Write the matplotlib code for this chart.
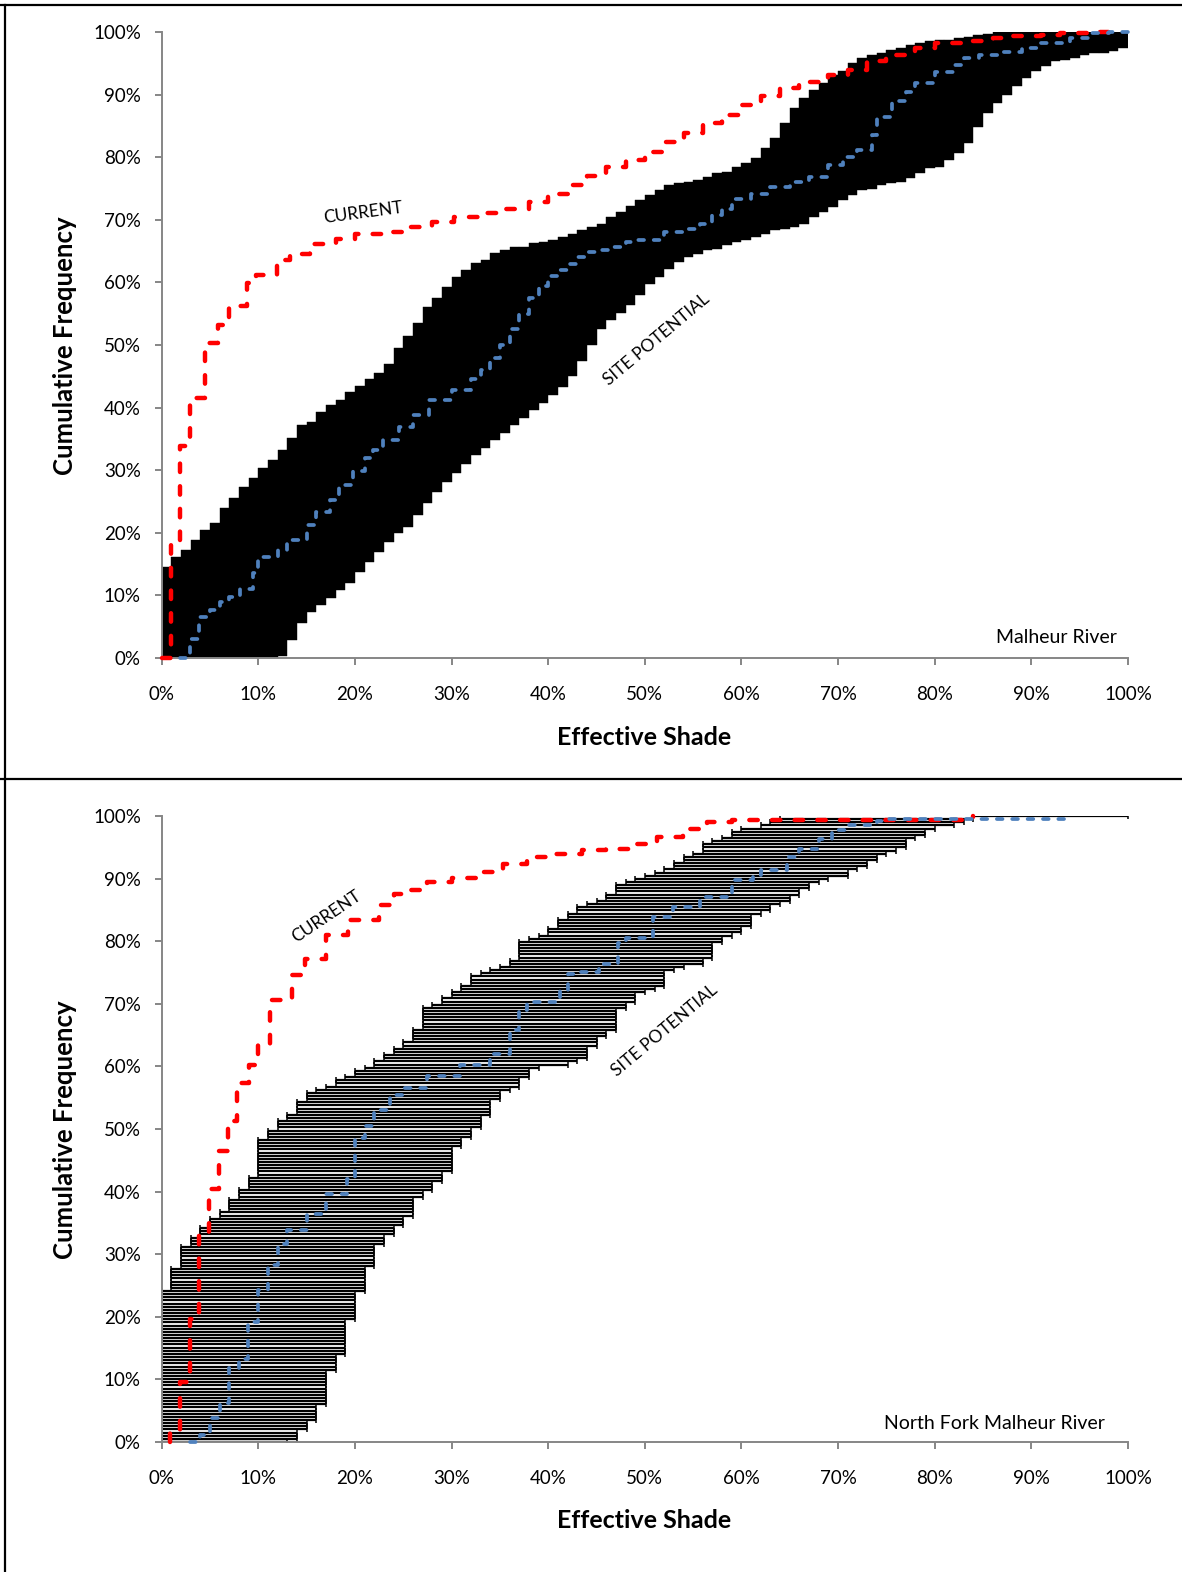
import numpy as np
import matplotlib.pyplot as plt

plt.rcParams['font.family'] = ['Lato', 'DejaVu Sans']

# ---------------- Malheur River (top panel) ----------------
# site potential spread per 1% effective-shade bin: cumulative frequency range (%)
mr_band_lo = [0, 0, 0, 0, 0, 0, 0, 0, 0, 0,
              0, 0, 0.3, 2.9, 5.6, 7.4, 8.5, 9.6, 10.9, 12.0,
              13.7, 15.3, 17.0, 18.5, 20.0, 21.0, 22.8, 24.7, 26.5, 28.1,
              29.5, 31.0, 32.4, 33.6, 34.8, 36.0, 37.2, 38.4, 39.6, 40.8,
              42.0, 43.3, 45.0, 47.5, 50.0, 52.5, 54.0, 55.1, 56.4, 58.0,
              59.8, 60.9, 62.2, 63.3, 64.1, 64.6, 65.2, 65.4, 66.0, 66.5,
              66.8, 67.3, 67.8, 68.4, 68.6, 68.9, 69.4, 70.5, 71.3, 72.1,
              73.2, 74.0, 74.8, 75.0, 75.6, 75.8, 76.1, 76.6, 77.4, 78.2,
              78.5, 79.6, 80.6, 82.2, 84.9, 87.0, 88.6, 89.9, 91.3, 92.6,
              93.7, 94.5, 95.3, 95.5, 95.8, 96.3, 96.6, 96.6, 96.9, 97.4]
mr_band_hi = [14.5, 16.1, 17.2, 18.8, 20.4, 21.5, 24.0, 25.5, 27.3, 28.7,
              30.3, 31.6, 33.2, 35.1, 37.2, 37.7, 39.3, 40.4, 41.2, 42.5,
              43.5, 44.5, 45.5, 47.0, 49.5, 51.5, 53.5, 56.1, 57.5, 59.3,
              60.9, 62.0, 63.1, 63.6, 64.7, 65.2, 65.7, 65.7, 66.3, 66.5,
              66.7, 67.2, 67.7, 68.3, 68.8, 69.4, 70.5, 71.3, 72.2, 73.2,
              74.0, 74.8, 75.6, 75.8, 76.1, 76.4, 76.9, 77.4, 77.7, 78.5,
              79.0, 79.8, 81.4, 83.0, 85.4, 87.8, 89.4, 90.7, 91.8, 93.1,
              93.7, 95.0, 95.8, 96.3, 96.6, 97.1, 97.4, 97.9, 98.2, 98.5,
              98.7, 98.8, 99.0, 99.2, 99.5, 99.7, 100, 100, 100, 100,
              100, 100, 100, 100, 100, 100, 100, 100, 100, 100]

mr_cur_shade = [0, 1.0, 1.9, 2.9, 4.5, 5.8, 7.0, 8.8, 9.8, 11.9, 13.3, 15.3,
                18.0, 20.0, 23.0, 25.3, 28.0, 30.3, 33.0, 35.3, 38.0, 40.0,
                42.0, 44.0, 46.0, 48.0, 50.0, 52.0, 54.0, 56.0, 58.0, 60.0,
                62.0, 64.0, 66.0, 69.0, 71.0, 73.0, 75.0, 78.0, 80.0, 83.0,
                86.0, 88.0, 91.0, 93.0, 96.0, 98.0]
mr_cur_freq = [0, 18.0, 33.8, 41.5, 50.3, 53.2, 56.2, 59.9, 61.2, 63.6, 64.6, 66.2,
               67.0, 67.8, 68.1, 68.9, 69.7, 70.5, 71.1, 71.8, 72.9, 74.2,
               75.5, 77.0, 78.5, 79.6, 80.9, 82.5, 83.8, 85.4, 86.7, 88.3,
               89.7, 91.0, 92.0, 93.1, 93.9, 95.3, 96.3, 97.4, 98.2, 98.5,
               99.0, 99.3, 99.5, 99.8, 100, 100]

mr_pot_shade = [1.9, 2.9, 3.9, 5.0, 6.0, 7.0, 8.1, 9.5, 10.0, 12.0, 13.0, 15.0,
                16.0, 17.4, 18.4, 19.8, 21.0, 21.9, 22.9, 24.6, 26.0, 27.7,
                30.0, 32.0, 33.0, 34.0, 35.0, 36.0, 37.0, 38.0, 39.0, 40.0,
                41.0, 42.0, 43.0, 44.0, 45.3, 46.5, 48.0, 49.0, 52.0, 54.0,
                55.7, 57.0, 58.0, 59.0, 61.0, 63.0, 65.0, 67.0, 69.0, 70.5,
                72.0, 73.5, 74.0, 75.6, 77.0, 78.0, 80.0, 82.0, 83.0, 84.6,
                87.0, 89.0, 91.0, 94.0, 96.0, 98.0, 100]
mr_pot_freq = [0, 3.1, 6.6, 7.7, 9.0, 9.8, 11.1, 13.6, 16.2, 17.3, 18.8, 21.2,
               23.3, 25.2, 27.6, 29.8, 32.0, 33.2, 34.8, 36.9, 38.8, 41.2,
               42.8, 44.5, 46.0, 48.0, 50.0, 52.5, 55.0, 57.5, 59.5, 61.0,
               62.0, 63.0, 64.0, 64.8, 65.2, 65.7, 66.5, 66.8, 68.1, 68.6,
               69.4, 70.7, 71.7, 73.4, 74.2, 75.3, 76.1, 76.9, 78.8, 80.1,
               81.2, 83.5, 86.5, 89.0, 90.4, 91.8, 93.6, 94.7, 95.8, 96.3,
               96.8, 97.4, 98.2, 99.0, 99.8, 100, 100]

# ---------------- North Fork Malheur River (bottom panel) ----------------
nf_sites = 200
# left end of each site's range (shade %) -> highest cumulative freq (%) using it
nf_lo_shade = [0, 1, 2, 3, 4, 5, 6, 7, 8, 9, 10, 11, 12, 13, 14, 15, 16, 17, 18, 19,
               20, 21, 22, 23, 24, 25, 26, 27, 28, 29, 30, 31, 32, 33, 34, 35, 36, 37,
               38, 39, 40, 41, 42, 43, 44, 45, 46, 47, 48, 49, 50, 51, 52, 53, 54, 55,
               56, 57, 58, 59, 60, 61, 62, 63, 64, 74, 84]
nf_lo_top = [24.3, 28.0, 31.2, 32.8, 34.4, 35.7, 37.1, 38.7, 40.5, 42.6, 48.4, 50.0,
             51.4, 52.6, 54.6, 55.8, 56.4, 57.0, 58.0, 58.6, 59.3, 60.0, 61.0, 62.0,
             63.0, 64.2, 66.3, 69.5, 70.3, 71.1, 71.9, 73.3, 74.8, 75.1, 75.4, 76.2,
             77.0, 79.9, 80.7, 81.3, 82.3, 83.9, 84.5, 85.8, 86.3, 86.6, 87.6, 89.0,
             89.8, 90.3, 90.6, 91.1, 91.7, 92.6, 93.5, 94.4, 95.5, 96.2, 96.5, 97.5,
             98.1, 98.4, 98.7, 99.1, 99.5, 99.8, 100]
# right end of each site's range (shade %) -> highest cumulative freq (%) using it
nf_hi_shade = [13, 14, 15, 16, 17, 18, 19, 20, 21, 22, 23, 24, 25, 26, 27, 28, 29, 30,
               31, 32, 33, 34, 35, 36, 37, 38, 39, 40, 42, 43, 44, 45, 46, 47, 48, 49,
               50, 51, 52, 53, 54, 55, 56, 57, 58, 59, 60, 61, 62, 63, 64, 65, 66, 67,
               68, 69, 71, 72, 73, 74, 75, 76, 77, 78, 79, 80, 82, 83, 84, 94, 100]
nf_hi_top = [0.3, 1.6, 3.2, 5.6, 11.2, 13.6, 19.2, 24.0, 28.0, 31.5, 32.8, 34.2, 35.7,
             38.7, 40.0, 41.6, 42.9, 47.0, 48.5, 50.0, 52.0, 54.5, 56.2, 56.5, 57.8,
             59.4, 59.9, 60.2, 60.5, 61.0, 62.9, 64.5, 65.8, 69.0, 70.1, 71.4, 72.2,
             72.6, 75.1, 75.4, 75.9, 76.2, 77.0, 79.7, 80.5, 81.3, 82.1, 84.2, 84.7,
             85.5, 86.3, 87.1, 88.2, 89.0, 89.8, 90.3, 91.1, 91.6, 92.7, 93.5, 94.3,
             94.8, 96.2, 96.7, 97.5, 98.3, 98.6, 99.4, 99.7, 99.9, 100]

nf_cur_shade = [0.9, 0.9, 1.9, 2.9, 3.9, 4.9, 5.9, 6.9, 7.8, 9.0, 10.0, 11.2, 13.5,
                14.8, 17.0, 19.3, 22.5, 24.0, 25.8, 27.5, 30.0, 33.0, 35.3, 37.8,
                40.5, 43.5, 46.0, 48.7, 51.3, 53.9, 56.4, 59.0, 84.0]
nf_cur_freq = [0, 1.8, 9.6, 19.6, 33.3, 40.4, 46.5, 51.3, 57.3, 60.3, 63.5, 70.6, 74.6,
               77.2, 81.0, 83.4, 85.8, 87.6, 88.2, 89.5, 90.1, 91.1, 92.4, 93.5,
               94.0, 94.6, 94.8, 95.5, 96.7, 98.0, 99.1, 99.4, 100]

nf_pot_shade = [2.9, 4.0, 5.0, 6.0, 7.0, 8.0, 8.9, 10.0, 11.0, 12.0, 13.0, 15.0, 17.0,
                19.2, 20.0, 21.0, 22.0, 23.6, 25.0, 27.5, 30.9, 34.0, 36.0, 37.0,
                37.8, 41.2, 42.0, 43.0, 45.3, 47.2, 48.1, 50.8, 52.9, 55.7, 59.0,
                61.2, 62.0, 64.7, 66.0, 68.0, 69.4, 71.0, 74.0, 75.3, 94.0]
nf_pot_freq = [0, 1.1, 3.8, 6.2, 11.8, 13.3, 19.2, 24.3, 28.3, 31.7, 33.8, 36.5, 39.6,
               42.0, 48.5, 50.5, 53.0, 55.4, 56.5, 58.5, 60.2, 62.0, 65.8, 69.0,
               70.3, 72.2, 74.8, 75.1, 76.4, 79.7, 80.5, 83.9, 85.5, 87.1, 89.8,
               90.6, 91.4, 93.5, 94.8, 96.4, 97.7, 98.5, 99.2, 99.5, 99.5]

W, H = 1182, 1572
AX_GREY = '#868686'
RED = '#FF0000'
BLUE = '#4F81BD'


def style_axes(ax):
    ax.set_xlim(0, 100)
    ax.set_ylim(0, 100)
    for s in ('top', 'right'):
        ax.spines[s].set_visible(False)
    for s in ('left', 'bottom'):
        ax.spines[s].set_color(AX_GREY)
        ax.spines[s].set_linewidth(1.4)
    ticks = list(range(0, 101, 10))
    ax.set_xticks(ticks)
    ax.set_yticks(ticks)
    ax.set_xticklabels([f'{t}%' for t in ticks])
    ax.set_yticklabels([f'{t}%' for t in ticks])
    ax.tick_params(axis='both', direction='out', length=5, width=1.4,
                   color=AX_GREY, labelsize=13.5)
    ax.tick_params(axis='x', pad=15)
    ax.tick_params(axis='y', pad=10)


def draw_curves(ax, cs, cf, ps, pf):
    ax.plot(cs, cf, color=RED, lw=3.2, drawstyle='steps-post',
            linestyle=(0, (1.9, 3.2)), dash_capstyle='round', zorder=4, clip_on=False)
    ax.plot(ps, pf, color=BLUE, lw=2.7, drawstyle='steps-post',
            linestyle=(0, (1.5, 2.6)), dash_capstyle='round', zorder=5, clip_on=False)


fig = plt.figure(figsize=(W / 100, H / 100), dpi=100)

# frame lines of the two stacked charts
fig.add_artist(plt.Line2D([0, 1], [1 - 4.5 / H] * 2, color='k', lw=1.6))
fig.add_artist(plt.Line2D([0, 1], [1 - 779 / H] * 2, color='k', lw=1.6))
fig.add_artist(plt.Line2D([5 / W] * 2, [0, 1 - 4.5 / H], color='k', lw=1.6))

ax_l = 161.7 / W
ax_w = (1128 - 161.7) / W
ax_h = (658 - 32) / H
ax1 = fig.add_axes([ax_l, 1 - 658 / H, ax_w, ax_h])
ax2 = fig.add_axes([ax_l, 1 - 1442 / H, ax_w, ax_h])

# --- top panel ---
style_axes(ax1)
lo = np.array(mr_band_lo)
hi = np.array(mr_band_hi)
ax1.bar(np.arange(len(lo)), hi - lo, bottom=lo, width=1, align='edge',
        color='black', edgecolor='black', linewidth=0.3, zorder=2)
draw_curves(ax1, mr_cur_shade, mr_cur_freq, mr_pot_shade, mr_pot_freq)
ax1.text(20.8, 71.1, 'CURRENT', rotation=7.5, fontsize=12.5, ha='center', va='center')
ax1.text(51.2, 50.8, 'SITE POTENTIAL', rotation=40, fontsize=12.5, ha='center', va='center')
ax1.text(98.8, 3.2, 'Malheur River', fontsize=14, ha='right', va='center')

# --- bottom panel ---
style_axes(ax2)
levels = np.linspace(0, 100, nf_sites)
x_lo = np.array(nf_lo_shade)[np.searchsorted(np.array(nf_lo_top), levels - 1e-6)]
x_hi = np.array(nf_hi_shade)[np.searchsorted(np.array(nf_hi_top), levels - 1e-6)]
mid = (x_lo + x_hi) / 2
ax2.errorbar(mid, levels, xerr=[mid - x_lo, x_hi - mid], fmt='none', ecolor='black',
             elinewidth=1.6, capsize=2.2, capthick=1.1, zorder=2)
draw_curves(ax2, nf_cur_shade, nf_cur_freq, nf_pot_shade, nf_pot_freq)
ax2.text(17.0, 84.0, 'CURRENT', rotation=34, fontsize=12.5, ha='center', va='center')
ax2.text(52.0, 65.8, 'SITE POTENTIAL', rotation=40, fontsize=12.5, ha='center', va='center')
ax2.text(97.6, 2.9, 'North Fork Malheur River', fontsize=14, ha='right', va='center')

for yc in (346, 1130):
    fig.text(65 / W, 1 - yc / H, 'Cumulative Frequency', rotation=90, fontsize=18.5,
             fontweight='bold', ha='center', va='center')
for yc in (737, 1521):
    fig.text(644 / W, 1 - yc / H, 'Effective Shade', fontsize=18,
             fontweight='bold', ha='center', va='center')

fig.savefig('out.png', dpi=100)
